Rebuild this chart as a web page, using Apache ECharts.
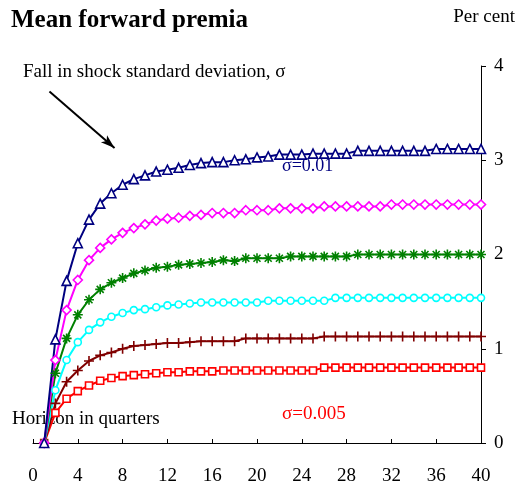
<!DOCTYPE html>
<html>
<head>
<meta charset="utf-8">
<script src="https://cdn.jsdelivr.net/npm/echarts@6/dist/echarts.min.js"></script>
<style>
  html, body { margin: 0; padding: 0; background: #fff; }
  #chart { width: 518px; height: 486px; }
</style>
</head>
<body>
<div id="chart"></div>
<script>
// Horizon in quarters
var horizon = [1, 2, 3, 4, 5, 6, 7, 8, 9, 10, 11, 12, 13, 14, 15, 16, 17, 18, 19, 20,
               21, 22, 23, 24, 25, 26, 27, 28, 29, 30, 31, 32, 33, 34, 35, 36, 37, 38, 39, 40];

// Mean forward premia (per cent), one curve per shock standard deviation
var sigma010 = [0, 1.10, 1.72, 2.12, 2.37, 2.54, 2.65, 2.74, 2.80, 2.84, 2.88, 2.90, 2.92, 2.95, 2.97, 2.98, 2.98, 3.00, 3.01, 3.03,
                3.04, 3.06, 3.06, 3.06, 3.07, 3.07, 3.07, 3.07, 3.10, 3.10, 3.10, 3.10, 3.10, 3.10, 3.10, 3.12, 3.12, 3.12, 3.12, 3.12];
var sigma009 = [0, 0.88, 1.41, 1.73, 1.94, 2.07, 2.16, 2.23, 2.28, 2.32, 2.36, 2.38, 2.39, 2.41, 2.42, 2.44, 2.44, 2.44, 2.47, 2.47,
                2.47, 2.49, 2.49, 2.49, 2.49, 2.51, 2.51, 2.51, 2.51, 2.51, 2.51, 2.53, 2.53, 2.53, 2.53, 2.53, 2.53, 2.53, 2.53, 2.53];
var sigma008 = [0, 0.74, 1.11, 1.36, 1.52, 1.63, 1.70, 1.75, 1.80, 1.83, 1.86, 1.87, 1.89, 1.90, 1.91, 1.92, 1.94, 1.93, 1.96, 1.96,
                1.96, 1.96, 1.98, 1.98, 1.98, 1.98, 1.98, 1.98, 2.00, 2.00, 2.00, 2.00, 2.00, 2.00, 2.00, 2.00, 2.00, 2.00, 2.00, 2.00];
var sigma007 = [0, 0.56, 0.88, 1.07, 1.20, 1.28, 1.34, 1.38, 1.41, 1.42, 1.44, 1.46, 1.47, 1.48, 1.49, 1.49, 1.49, 1.49, 1.49, 1.49,
                1.51, 1.51, 1.51, 1.51, 1.51, 1.51, 1.54, 1.54, 1.54, 1.54, 1.54, 1.54, 1.54, 1.54, 1.54, 1.54, 1.54, 1.54, 1.54, 1.54];
var sigma006 = [0, 0.42, 0.65, 0.77, 0.87, 0.93, 0.96, 1.00, 1.03, 1.04, 1.05, 1.06, 1.06, 1.07, 1.08, 1.08, 1.08, 1.08, 1.11, 1.11,
                1.11, 1.11, 1.11, 1.11, 1.11, 1.13, 1.13, 1.13, 1.13, 1.13, 1.13, 1.13, 1.13, 1.13, 1.13, 1.13, 1.13, 1.13, 1.13, 1.13];
var sigma005 = [0, 0.32, 0.47, 0.55, 0.61, 0.66, 0.69, 0.71, 0.72, 0.73, 0.74, 0.75, 0.75, 0.76, 0.76, 0.76, 0.77, 0.77, 0.77, 0.77,
                0.77, 0.77, 0.77, 0.77, 0.77, 0.80, 0.80, 0.80, 0.80, 0.80, 0.80, 0.80, 0.80, 0.80, 0.80, 0.80, 0.80, 0.80, 0.80, 0.80];

// Axis ticks
var xTicks = [0, 4, 8, 12, 16, 20, 24, 28, 32, 36, 40];
var yTicks = [0, 1, 2, 3, 4];

// Arrow showing the direction of the fall in sigma (data coordinates)
var arrowFrom = [1.47, 3.73];
var arrowTo = [7.28, 3.13];

var SERIF = '"Liberation Serif", "Times New Roman", serif';
var ASTERISK = 'path://M5 0 L5 10 M0 5 L10 5 M1.5 1.5 L8.5 8.5 M8.5 1.5 L1.5 8.5';
var PLUS = 'path://M5 0 L5 10 M0 5 L10 5';

function pairs(ys) {
  return horizon.map(function (h, i) { return [h, ys[i]]; });
}

function curve(name, ys, color, symbol, size, hollow) {
  return {
    name: name,
    type: 'line',
    data: pairs(ys),
    symbol: symbol,
    symbolSize: size,
    showAllSymbol: true,
    lineStyle: { color: color, width: 2 },
    itemStyle: {
      color: hollow ? '#ffffff' : color,
      borderColor: color,
      borderWidth: 1.6
    },
    emphasis: { disabled: true },
    animation: false
  };
}

var chart = echarts.init(document.getElementById('chart'), null, { renderer: 'canvas' });

var series = [
  curve('σ=0.005', sigma005, '#FF0000', 'rect', 7, true),
  curve('σ=0.006', sigma006, '#800000', PLUS, 10, false),
  curve('σ=0.007', sigma007, '#00FFFF', 'circle', 7, true),
  curve('σ=0.008', sigma008, '#008000', ASTERISK, 10, false),
  curve('σ=0.009', sigma009, '#FF00FF', 'diamond', 9, true),
  curve('σ=0.01', sigma010, '#000080', 'triangle', 9, true)
];

series[5].markLine = {
  silent: true,
  symbol: ['none', 'arrow'],
  symbolSize: [7, 14],
  label: { show: false },
  lineStyle: { color: '#000000', width: 2, type: 'solid' },
  data: [[{ coord: arrowFrom }, { coord: arrowTo }]]
};

chart.setOption({
  backgroundColor: '#ffffff',
  animation: false,
  grid: { left: 33, right: 37, top: 66, bottom: 43, containLabel: false },
  xAxis: {
    type: 'value',
    min: xTicks[0],
    max: xTicks[xTicks.length - 1],
    interval: xTicks[1] - xTicks[0],
    axisLine: { show: true, onZero: false, lineStyle: { color: '#000000', width: 1 } },
    axisTick: { show: true, inside: true, length: 4, lineStyle: { color: '#000000' } },
    axisLabel: { color: '#000000', fontFamily: SERIF, fontSize: 19, margin: 24 },
    splitLine: { show: false }
  },
  yAxis: {
    type: 'value',
    position: 'right',
    min: yTicks[0],
    max: yTicks[yTicks.length - 1],
    interval: yTicks[1] - yTicks[0],
    axisLine: { show: true, onZero: false, lineStyle: { color: '#000000', width: 1 } },
    axisTick: { show: true, inside: false, length: 5, lineStyle: { color: '#000000' } },
    axisLabel: { color: '#000000', fontFamily: SERIF, fontSize: 19, margin: 13 },
    splitLine: { show: false }
  },
  graphic: [
    { type: 'text', left: 11, top: 8,
      style: { text: 'Mean forward premia', fill: '#000000', font: 'bold 25px ' + SERIF } },
    { type: 'text', right: 3, top: 8,
      style: { text: 'Per cent', fill: '#000000', font: '19px ' + SERIF } },
    { type: 'text', left: 23, top: 63,
      style: { text: 'Fall in shock standard deviation, σ', fill: '#000000', font: '19px ' + SERIF } },
    { type: 'text', left: 282, top: 157,
      style: { text: 'σ=0.01', fill: '#000080', font: '18px ' + SERIF } },
    { type: 'text', left: 282, top: 405,
      style: { text: 'σ=0.005', fill: '#FF0000', font: '19px ' + SERIF } },
    { type: 'text', left: 12, top: 410,
      style: { text: 'Horizon in quarters', fill: '#000000', font: '19px ' + SERIF } }
  ],
  series: series
});
</script>
</body>
</html>
